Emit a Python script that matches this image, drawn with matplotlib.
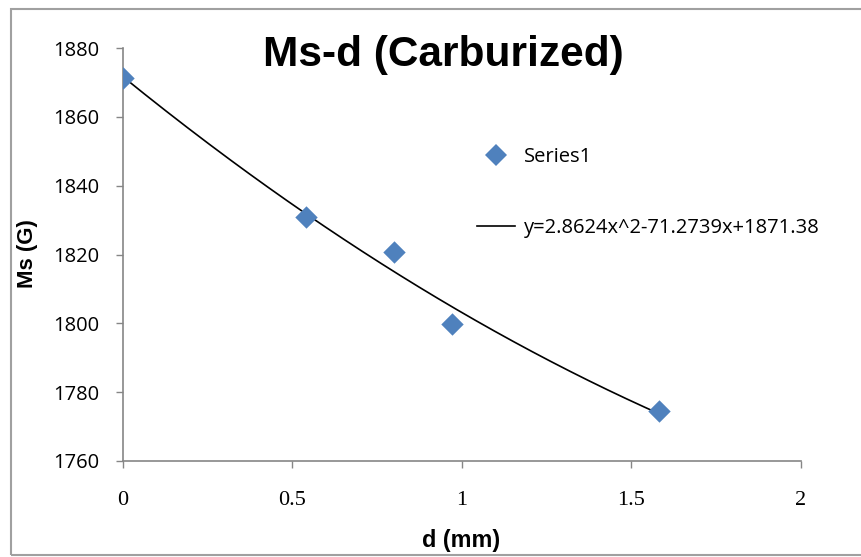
import numpy as np
import matplotlib.pyplot as plt
from matplotlib.patches import Rectangle
from matplotlib.lines import Line2D

# data
d_mm = [0.0, 0.54, 0.80, 0.97, 1.58]
ms_g = [1871.4, 1831.0, 1820.6, 1799.7, 1774.4]
trend_label = "y=2.8624x^2-71.2739x+1871.38"
x_ticks = [0, 0.5, 1, 1.5, 2]
x_ticklabels = ["0", "0.5", "1", "1.5", "2"]
y_ticks = [1760, 1780, 1800, 1820, 1840, 1860, 1880]

W, H = 862, 557
fig = plt.figure(figsize=(W / 100, H / 100), dpi=100)
ax = fig.add_axes([123 / W, 1 - 461 / H, (801 - 123) / W, (461 - 48) / H])

# outer chart border
fig.patches.append(Rectangle((11 / W, 1 - 555 / H), 1.0, (555 - 9) / H,
                             transform=fig.transFigure, fill=False,
                             edgecolor='#a0a0a0', linewidth=1.5))

# 2nd order polynomial trendline, fitted like excel does
coef = np.polyfit(d_mm, ms_g, 2)
xs = np.linspace(min(d_mm), max(d_mm), 200)
ax.plot(xs, np.polyval(coef, xs), color='black', linewidth=1.2, zorder=2)
ax.scatter(d_mm, ms_g, marker='D', s=130, color='#4f81bd', zorder=3, linewidths=0)

ax.set_xlim(0, 2)
ax.set_ylim(1760, 1880)
ax.set_xticks(x_ticks)
ax.set_xticklabels(x_ticklabels, family='Liberation Serif', fontsize=16)
ax.set_yticks(y_ticks)
ax.set_yticklabels([str(v) for v in y_ticks], family='Open Sans', fontsize=14.5)

for s in ['top', 'right']:
    ax.spines[s].set_visible(False)
for s in ['left', 'bottom']:
    ax.spines[s].set_color('#868686')
    ax.spines[s].set_linewidth(1.2)
ax.tick_params(axis='both', direction='out', length=4.8, width=1, color='#868686')
ax.tick_params(axis='x', pad=17)
ax.tick_params(axis='y', pad=12)

fig.text(443 / W, 1 - 55 / H, "Ms-d (Carburized)", family='Liberation Sans',
         fontweight='bold', fontsize=30.5, ha='center', va='center')
fig.text(28 / W, 1 - 254 / H, "Ms (G)", family='Liberation Sans', fontweight='bold',
         fontsize=16, rotation=90, ha='center', va='center')
fig.text(461 / W, 1 - 541 / H, "d (mm)", family='Liberation Sans', fontweight='bold',
         fontsize=16.8, ha='center', va='center')

handles = [Line2D([], [], marker='D', color='#4f81bd', linestyle='none', markersize=10.8,
                  markeredgewidth=0),
           Line2D([], [], color='black', linewidth=1.2)]
leg = ax.legend(handles, ["Series1", trend_label], loc='upper left',
                bbox_to_anchor=((459 - 123) / (801 - 123), (461 - 129) / (461 - 48)),
                frameon=False, prop={'family': 'Open Sans', 'size': 14.5},
                labelspacing=2.55, handlelength=1.9, handletextpad=0.4)

fig.savefig('out.png', dpi=100)
